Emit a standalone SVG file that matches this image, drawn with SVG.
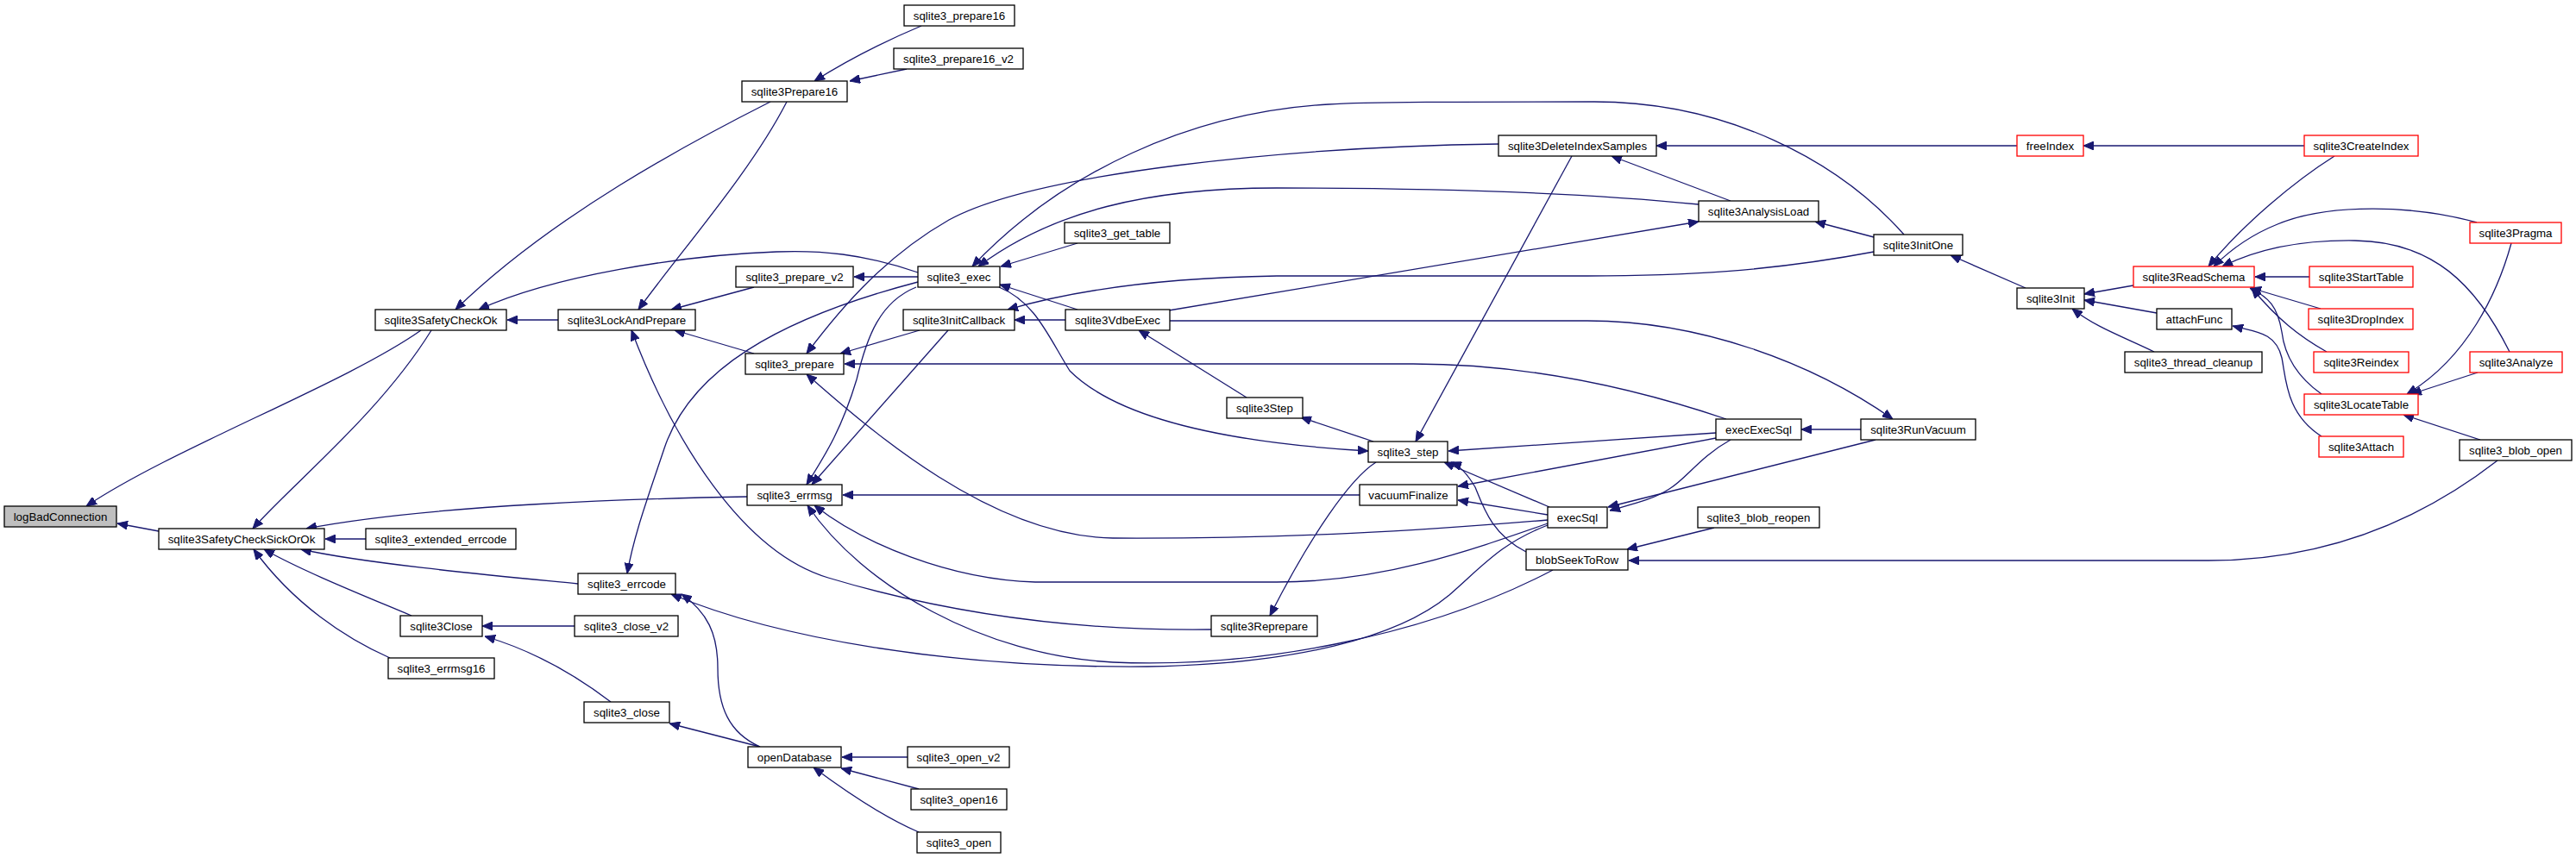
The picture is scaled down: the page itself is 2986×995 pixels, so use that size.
<svg xmlns="http://www.w3.org/2000/svg" width="2986" height="995" viewBox="0 0 2986 995">
<style>
.n rect{fill:#fff;stroke:#000;stroke-width:1.3}
.r rect{stroke:#ff0000}
.g rect{fill:#bfbfbf}
text{font-family:"Liberation Sans",Arial,Helvetica,sans-serif;font-size:13.3px;text-anchor:middle;fill:#000}
#edges path{fill:none;stroke:#191970;stroke-width:1.3;marker-end:url(#a)}
</style>
<defs>
<marker id="a" viewBox="0 0 12 10" refX="12" refY="5" markerWidth="12" markerHeight="10" markerUnits="userSpaceOnUse" orient="auto">
<path d="M0,0 L12,5 L0,10 z" fill="#191970" stroke="#191970" stroke-width="1"/>
</marker>
</defs>
<rect width="2986" height="995" fill="#fff"/>
<g id="edges">
<path d="M488,383 C 400,445 200,520 100,587"/>
<path d="M184,616 L136,607"/>
<path d="M893,118 C 800,165 640,250 528,359"/>
<path d="M1064,316 C 1000,294 950,290 900,292 C 790,296 640,320 555,359"/>
<path d="M647,371 L588,371"/>
<path d="M500,383 C 440,480 340,560 293,613"/>
<path d="M424,625 L377,625"/>
<path d="M866,576 C 750,578 500,585 355,613"/>
<path d="M670,677 C 600,670 430,655 349,637"/>
<path d="M477,714 C 420,690 350,662 306,637"/>
<path d="M452,763 C 400,740 340,700 294,637"/>
<path d="M1068,30 C 1030,46 985,68 944,94"/>
<path d="M1051,80 L985,94"/>
<path d="M912,118 C 870,200 790,290 740,359"/>
<path d="M874,333 L778,359"/>
<path d="M874,410 L782,383"/>
<path d="M1404,730 C 1250,732 1100,712 960,670 C 860,640 780,510 732,383"/>
<path d="M1064,321 L990,321"/>
<path d="M1064,327 C 900,370 800,430 770,520 C 750,580 735,620 727,665"/>
<path d="M1062,333 C 1020,350 1005,390 993,440 C 975,500 955,530 935,562"/>
<path d="M1099,383 L941,562"/>
<path d="M1066,383 L974,410"/>
<path d="M1737,167 C 1500,170 1200,200 1100,255 C 1030,295 980,350 935,410"/>
<path d="M2207,272 C 2130,185 2000,118 1848,118 C 1700,118 1580,118 1540,121 C 1380,130 1230,200 1127,309"/>
<path d="M1969,237 C 1850,225 1700,218 1480,218 C 1330,218 1220,245 1134,309"/>
<path d="M1249,282 L1160,309"/>
<path d="M1249,359 L1159,330"/>
<path d="M1158,333 C 1200,350 1215,390 1240,430 C 1290,480 1400,512 1586,523"/>
<path d="M1355,360 L1969,257"/>
<path d="M1356,372 L1840,372 C 1970,372 2100,420 2194,486"/>
<path d="M1235,371 L1176,371"/>
<path d="M2172,292 C 2050,315 1950,320 1840,320 L1480,320 C 1350,322 1250,335 1168,359"/>
<path d="M2172,275 L2104,257"/>
<path d="M2006,233 L1868,181"/>
<path d="M2338,169 L1920,169"/>
<path d="M1822,181 L1641,512"/>
<path d="M2671,169 L2415,169"/>
<path d="M2706,181 C 2660,210 2600,260 2560,309"/>
<path d="M2871,258 C 2800,238 2700,235 2640,260 C 2610,272 2585,290 2566,309"/>
<path d="M2909,408 C 2870,330 2820,280 2730,279 C 2660,278 2610,292 2576,309"/>
<path d="M2677,321 L2614,321"/>
<path d="M2690,358 L2609,334"/>
<path d="M2697,408 C 2665,390 2640,370 2610,334"/>
<path d="M2691,457 C 2660,435 2648,410 2645,385 C 2640,355 2630,345 2608,334"/>
<path d="M2911,282 C 2895,340 2860,415 2790,457"/>
<path d="M2872,432 L2795,457"/>
<path d="M2875,510 L2786,481"/>
<path d="M2500,363 L2416,348"/>
<path d="M2497,408 C 2460,390 2430,380 2402,358"/>
<path d="M2473,331 L2416,341"/>
<path d="M2348,334 L2261,296"/>
<path d="M2691,506 C 2650,480 2650,440 2645,415 C 2638,385 2615,385 2588,378"/>
<path d="M2895,534 C 2810,600 2700,650 2560,650 L1888,650"/>
<path d="M1987,612 L1886,637"/>
<path d="M2157,498 L2088,498"/>
<path d="M2174,510 L1864,588"/>
<path d="M2006,510 C 1970,530 1955,555 1935,567 C 1915,580 1890,585 1866,592"/>
<path d="M1989,502 L1679,523"/>
<path d="M1989,508 L1690,564"/>
<path d="M1794,597 L1690,580"/>
<path d="M1796,588 L1674,536"/>
<path d="M1769,640 C 1730,620 1720,590 1710,565 C 1700,548 1692,540 1682,536"/>
<path d="M1592,512 L1508,484"/>
<path d="M1445,461 L1320,383"/>
<path d="M1595,536 C 1565,555 1520,620 1472,714"/>
<path d="M1576,574 L977,574"/>
<path d="M2001,486 C 1880,445 1760,422 1638,422 L979,422"/>
<path d="M1794,603 C 1650,615 1500,625 1290,624 C 1150,622 1010,500 935,434"/>
<path d="M1794,607 C 1700,640 1600,675 1480,675 L1200,675 C 1100,672 1000,630 944,586"/>
<path d="M1794,609 C 1740,630 1720,655 1680,690 C 1620,740 1500,770 1330,773 C 1100,775 900,740 778,689"/>
<path d="M1800,661 C 1650,740 1450,775 1290,768 C 1140,760 1000,680 936,586"/>
<path d="M1052,878 L976,878"/>
<path d="M1065,915 L975,891"/>
<path d="M1065,965 C 1030,950 990,925 943,890"/>
<path d="M881,866 L776,839"/>
<path d="M881,866 C 845,850 832,820 832,775 C 832,735 820,710 790,689"/>
<path d="M666,726 L559,726"/>
<path d="M708,814 C 670,785 620,755 562,738"/>
</g>
<g id="logBadConnection" class="n g"><rect x="5" y="587" width="130" height="24"/><text x="70" y="603.5">logBadConnection</text></g>
<g id="sqlite3SafetyCheckOk" class="n"><rect x="435" y="359" width="152" height="24"/><text x="511" y="375.5">sqlite3SafetyCheckOk</text></g>
<g id="sqlite3SafetyCheckSickOrOk" class="n"><rect x="184" y="613" width="192" height="24"/><text x="280" y="629.5">sqlite3SafetyCheckSickOrOk</text></g>
<g id="sqlite3_extended_errcode" class="n"><rect x="424" y="613" width="174" height="24"/><text x="511" y="629.5">sqlite3_extended_errcode</text></g>
<g id="sqlite3Prepare16" class="n"><rect x="860" y="94" width="122" height="24"/><text x="921" y="110.5">sqlite3Prepare16</text></g>
<g id="sqlite3_prepare16" class="n"><rect x="1048" y="6" width="128" height="24"/><text x="1112" y="22.5">sqlite3_prepare16</text></g>
<g id="sqlite3_prepare16_v2" class="n"><rect x="1036" y="56" width="150" height="24"/><text x="1111" y="72.5">sqlite3_prepare16_v2</text></g>
<g id="sqlite3LockAndPrepare" class="n"><rect x="647" y="359" width="159" height="24"/><text x="726.5" y="375.5">sqlite3LockAndPrepare</text></g>
<g id="sqlite3_prepare_v2" class="n"><rect x="853" y="309" width="136" height="24"/><text x="921" y="325.5">sqlite3_prepare_v2</text></g>
<g id="sqlite3_exec" class="n"><rect x="1064" y="309" width="95" height="24"/><text x="1111.5" y="325.5">sqlite3_exec</text></g>
<g id="sqlite3_get_table" class="n"><rect x="1234" y="258" width="122" height="24"/><text x="1295" y="274.5">sqlite3_get_table</text></g>
<g id="sqlite3_prepare" class="n"><rect x="864" y="410" width="114" height="24"/><text x="921" y="426.5">sqlite3_prepare</text></g>
<g id="sqlite3InitCallback" class="n"><rect x="1047" y="359" width="129" height="24"/><text x="1111.5" y="375.5">sqlite3InitCallback</text></g>
<g id="sqlite3VdbeExec" class="n"><rect x="1235" y="359" width="121" height="24"/><text x="1295.5" y="375.5">sqlite3VdbeExec</text></g>
<g id="sqlite3_errmsg" class="n"><rect x="866" y="562" width="110" height="24"/><text x="921" y="578.5">sqlite3_errmsg</text></g>
<g id="sqlite3_errcode" class="n"><rect x="670" y="665" width="113" height="24"/><text x="726.5" y="681.5">sqlite3_errcode</text></g>
<g id="sqlite3Close" class="n"><rect x="464" y="714" width="95" height="24"/><text x="511.5" y="730.5">sqlite3Close</text></g>
<g id="sqlite3_close_v2" class="n"><rect x="666" y="714" width="120" height="24"/><text x="726" y="730.5">sqlite3_close_v2</text></g>
<g id="sqlite3_errmsg16" class="n"><rect x="450" y="763" width="123" height="24"/><text x="511.5" y="779.5">sqlite3_errmsg16</text></g>
<g id="sqlite3_close" class="n"><rect x="677" y="814" width="99" height="24"/><text x="726.5" y="830.5">sqlite3_close</text></g>
<g id="openDatabase" class="n"><rect x="867" y="866" width="108" height="24"/><text x="921" y="882.5">openDatabase</text></g>
<g id="sqlite3_open_v2" class="n"><rect x="1052" y="866" width="118" height="24"/><text x="1111" y="882.5">sqlite3_open_v2</text></g>
<g id="sqlite3_open16" class="n"><rect x="1056" y="915" width="111" height="24"/><text x="1111.5" y="931.5">sqlite3_open16</text></g>
<g id="sqlite3_open" class="n"><rect x="1063" y="965" width="97" height="24"/><text x="1111.5" y="981.5">sqlite3_open</text></g>
<g id="sqlite3Reprepare" class="n"><rect x="1404" y="714" width="123" height="24"/><text x="1465.5" y="730.5">sqlite3Reprepare</text></g>
<g id="sqlite3Step" class="n"><rect x="1422" y="461" width="88" height="24"/><text x="1466" y="477.5">sqlite3Step</text></g>
<g id="sqlite3_step" class="n"><rect x="1586" y="512" width="92" height="24"/><text x="1632" y="528.5">sqlite3_step</text></g>
<g id="vacuumFinalize" class="n"><rect x="1576" y="562" width="113" height="24"/><text x="1632.5" y="578.5">vacuumFinalize</text></g>
<g id="execSql" class="n"><rect x="1794" y="588" width="69" height="24"/><text x="1828.5" y="604.5">execSql</text></g>
<g id="blobSeekToRow" class="n"><rect x="1769" y="637" width="118" height="24"/><text x="1828" y="653.5">blobSeekToRow</text></g>
<g id="sqlite3_blob_reopen" class="n"><rect x="1968" y="588" width="141" height="24"/><text x="2038.5" y="604.5">sqlite3_blob_reopen</text></g>
<g id="execExecSql" class="n"><rect x="1989" y="486" width="99" height="24"/><text x="2038.5" y="502.5">execExecSql</text></g>
<g id="sqlite3RunVacuum" class="n"><rect x="2157" y="486" width="133" height="24"/><text x="2223.5" y="502.5">sqlite3RunVacuum</text></g>
<g id="sqlite3DeleteIndexSamples" class="n"><rect x="1737" y="157" width="183" height="24"/><text x="1828.5" y="173.5">sqlite3DeleteIndexSamples</text></g>
<g id="sqlite3AnalysisLoad" class="n"><rect x="1969" y="233" width="139" height="24"/><text x="2038.5" y="249.5">sqlite3AnalysisLoad</text></g>
<g id="sqlite3InitOne" class="n"><rect x="2172" y="272" width="103" height="24"/><text x="2223.5" y="288.5">sqlite3InitOne</text></g>
<g id="sqlite3Init" class="n"><rect x="2338" y="334" width="78" height="24"/><text x="2377" y="350.5">sqlite3Init</text></g>
<g id="freeIndex" class="n r"><rect x="2338" y="157" width="77" height="24"/><text x="2376.5" y="173.5">freeIndex</text></g>
<g id="sqlite3CreateIndex" class="n r"><rect x="2671" y="157" width="132" height="24"/><text x="2737" y="173.5">sqlite3CreateIndex</text></g>
<g id="sqlite3ReadSchema" class="n r"><rect x="2473" y="309" width="140" height="24"/><text x="2543" y="325.5">sqlite3ReadSchema</text></g>
<g id="sqlite3Pragma" class="n r"><rect x="2863" y="258" width="106" height="24"/><text x="2916" y="274.5">sqlite3Pragma</text></g>
<g id="sqlite3StartTable" class="n r"><rect x="2677" y="309" width="120" height="24"/><text x="2737" y="325.5">sqlite3StartTable</text></g>
<g id="attachFunc" class="n"><rect x="2500" y="358" width="87" height="24"/><text x="2543.5" y="374.5">attachFunc</text></g>
<g id="sqlite3_thread_cleanup" class="n"><rect x="2463" y="408" width="159" height="24"/><text x="2542.5" y="424.5">sqlite3_thread_cleanup</text></g>
<g id="sqlite3DropIndex" class="n r"><rect x="2676" y="358" width="121" height="24"/><text x="2736.5" y="374.5">sqlite3DropIndex</text></g>
<g id="sqlite3Reindex" class="n r"><rect x="2682" y="408" width="110" height="24"/><text x="2737" y="424.5">sqlite3Reindex</text></g>
<g id="sqlite3Analyze" class="n r"><rect x="2863" y="408" width="107" height="24"/><text x="2916.5" y="424.5">sqlite3Analyze</text></g>
<g id="sqlite3LocateTable" class="n r"><rect x="2671" y="457" width="132" height="24"/><text x="2737" y="473.5">sqlite3LocateTable</text></g>
<g id="sqlite3Attach" class="n r"><rect x="2688" y="506" width="98" height="24"/><text x="2737" y="522.5">sqlite3Attach</text></g>
<g id="sqlite3_blob_open" class="n"><rect x="2851" y="510" width="130" height="24"/><text x="2916" y="526.5">sqlite3_blob_open</text></g>
</svg>
